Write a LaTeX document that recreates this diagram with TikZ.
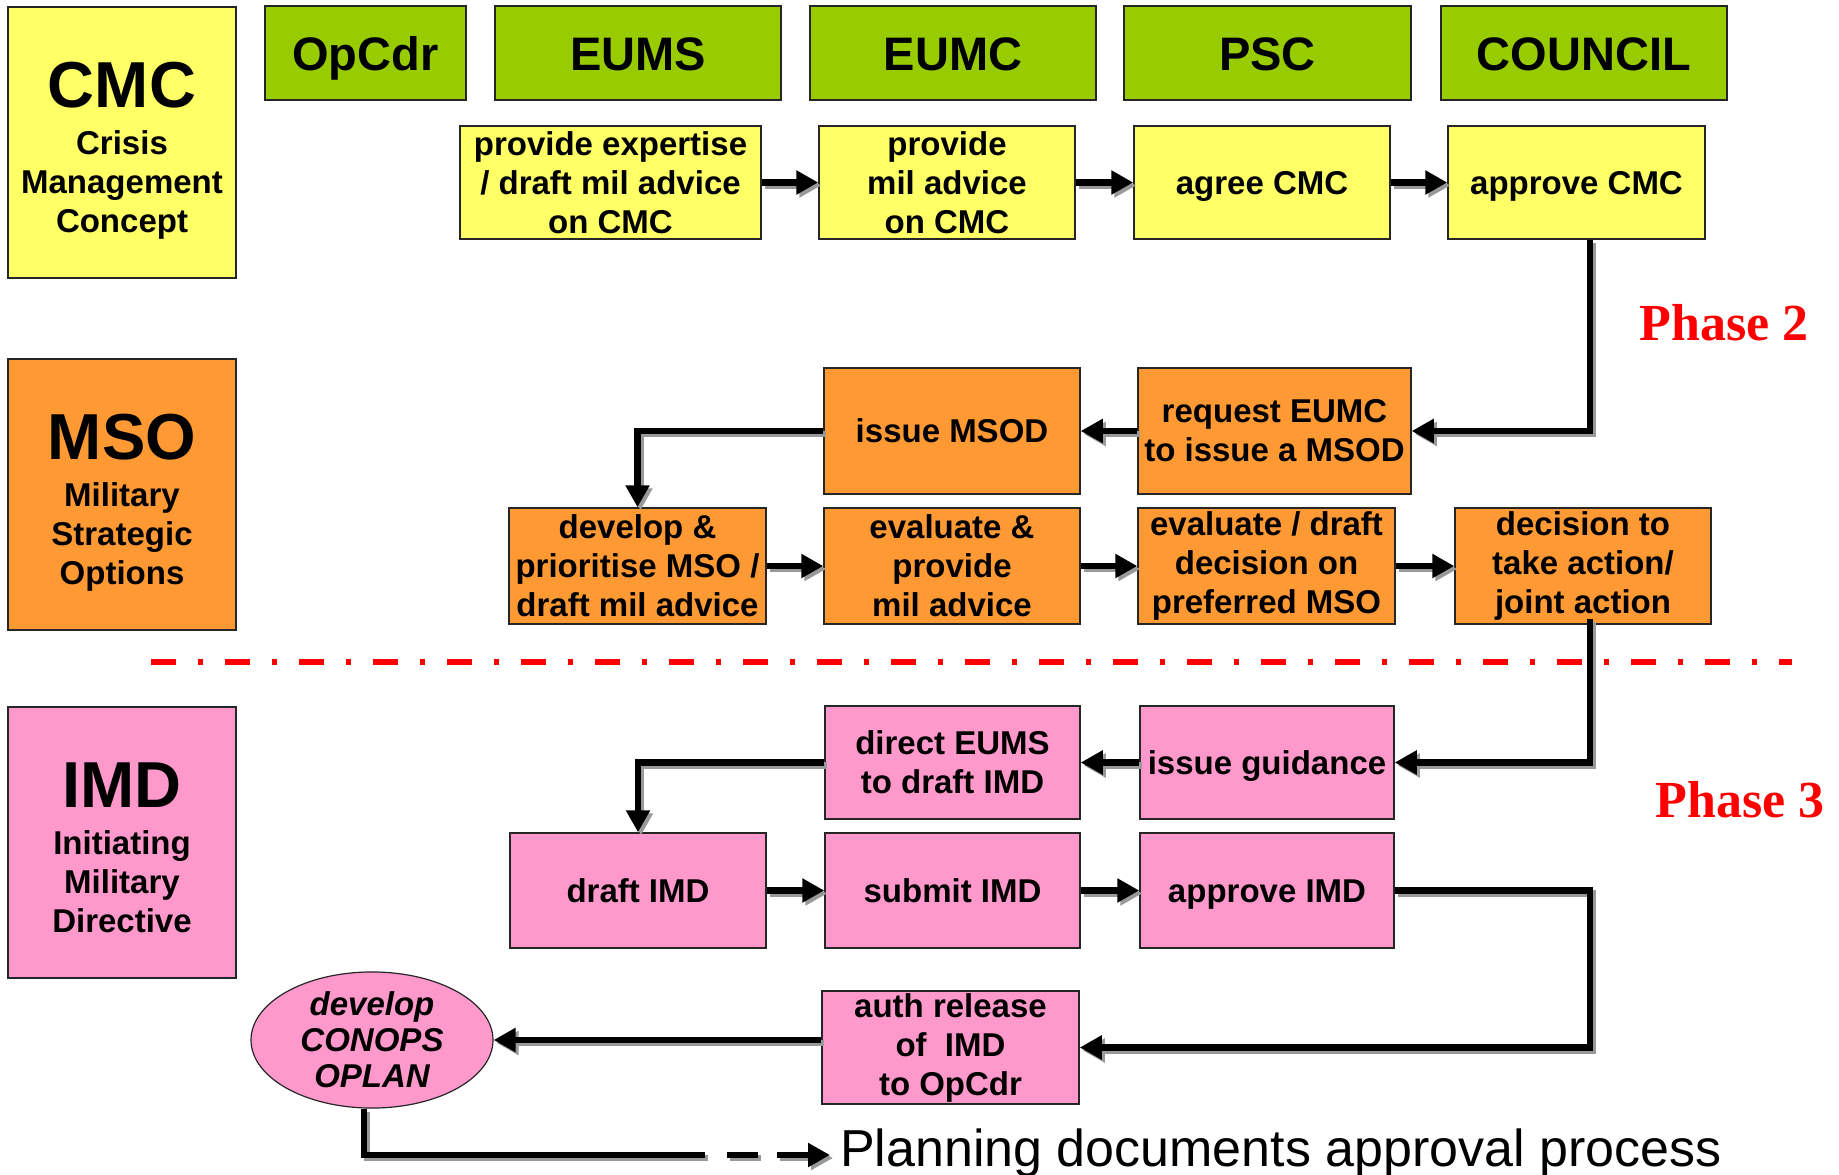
\documentclass[tikz,border=0pt]{standalone}
\usepackage{fontspec}
\setmainfont{Liberation Sans}
\newfontfamily\phasefont{Liberation Serif}
\usetikzlibrary{arrows.meta,shapes.geometric}
\definecolor{ybox}{HTML}{FFFF66}
\definecolor{gbox}{HTML}{99CC00}
\definecolor{obox}{HTML}{FF9933}
\definecolor{pbox}{HTML}{FF99CC}
\begin{document}
\begin{tikzpicture}[x=1pt,y=-1pt,
  box/.style={draw=black!85, line width=1.5pt, inner sep=0pt, align=center,
    font=\bfseries\fontsize{33}{39}\selectfont},
  hdr/.style={box, fill=gbox, minimum height=94pt, text height=34pt, text depth=0pt,
    font=\bfseries\fontsize{47}{50}\selectfont},
  cat/.style={box, minimum width=228pt, minimum height=271pt, text height=186pt, text depth=7pt},
  one/.style={text height=24pt, text depth=1pt},
  yb/.style={box, fill=ybox, minimum height=113pt},
  ob/.style={box, fill=obox},
  pb/.style={box, fill=pbox},
  conn/.style={line width=6.5pt, black,
    preaction={draw=black!40, line width=6.5pt, transform canvas={shift={(3pt,-3pt)}}}},
  arr/.style={conn, -{Triangle[length=22pt,width=23pt]}},
  sep/.style={draw=red, line width=5.5pt, dash pattern=on 25pt off 22pt on 5pt off 22pt},
  phase/.style={text=red, inner sep=0pt, font=\phasefont\bfseries\fontsize{52}{52}\selectfont}
]
\useasboundingbox (0,0) rectangle (1839,1175);

% headers
\node[hdr, minimum width=201pt] (opcdr) at (365.5,53) {OpCdr};
\node[hdr, minimum width=286pt] (eums) at (638,53) {EUMS};
\node[hdr, minimum width=286pt] (eumc) at (953,53) {EUMC};
\node[hdr, minimum width=287pt] (psc) at (1267.5,53) {PSC};
\node[hdr, minimum width=286pt] (council) at (1584,53) {COUNCIL};

% category boxes
\node[cat, fill=ybox] (cmc) at (122,142.5) {{\fontsize{65}{65}\selectfont CMC}\\[8pt]Crisis\\Management\\Concept};
\node[cat, fill=obox] (mso) at (122,494.5) {{\fontsize{65}{65}\selectfont MSO}\\[8pt]Military\\Strategic\\Options};
\node[cat, fill=pbox] (imd) at (122,842.5) {{\fontsize{65}{65}\selectfont IMD}\\[8pt]Initiating\\Military\\Directive};

% yellow row
\node[yb, minimum width=301pt] (y1) at (610.5,182.5) {provide expertise\\/ draft mil advice\\on CMC};
\node[yb, minimum width=256pt] (y2) at (947,182.5) {provide\\mil advice\\on CMC};
\node[yb, one, minimum width=256pt] (y3) at (1262,182.5) {agree CMC};
\node[yb, one, minimum width=257pt] (y4) at (1576.5,182.5) {approve CMC};

% orange rows
\node[ob, one, minimum width=256pt, minimum height=126pt] (msod) at (952,431) {issue MSOD};
\node[ob, minimum width=273pt, minimum height=126pt] (req) at (1274.5,431) {request EUMC\\to issue a MSOD};
\node[ob, minimum width=257pt, minimum height=116pt] (dev) at (637.5,566) {develop \&\\prioritise MSO /\\draft mil advice};
\node[ob, minimum width=256pt, minimum height=116pt] (evp) at (952,566) {evaluate \&\\provide\\mil advice};
\node[ob, minimum width=257pt, minimum height=116pt] (evd) at (1266.5,566) {evaluate / draft\\decision on\\preferred MSO};
\node[ob, minimum width=256pt, minimum height=116pt] (dec) at (1583,566) {decision to\\take action/\\joint action};

% pink rows
\node[pb, minimum width=255pt, minimum height=113pt] (dir) at (952.5,762.5) {direct EUMS\\to draft IMD};
\node[pb, one, minimum width=254pt, minimum height=113pt] (guid) at (1267,762.5) {issue guidance};
\node[pb, one, minimum width=256pt, minimum height=115pt] (dimd) at (638,890.5) {draft IMD};
\node[pb, one, minimum width=255pt, minimum height=115pt] (sub) at (952.5,890.5) {submit IMD};
\node[pb, one, minimum width=254pt, minimum height=115pt] (appr) at (1267,890.5) {approve IMD};
\node[pb, minimum width=257pt, minimum height=113pt] (auth) at (950.5,1047.5) {auth release\\of~~IMD\\to OpCdr};
\node[draw=black!85, line width=1.2pt, ellipse, fill=pbox, minimum width=242pt, minimum height=128pt,
  inner sep=0pt, align=center, font=\bfseries\itshape\fontsize{33}{36}\selectfont] (ell) at (372,1040) {develop\\CONOPS\\OPLAN};

% phase labels and separator
\node[phase] (ph2) at (1724,323) {Phase 2};
\node[phase] (ph3) at (1740,800) {Phase 3};
\coordinate (sepL) at (151,662);
\coordinate (sepR) at (1792,662);
\draw[sep] (sepL) -- (sepR);

% legend text
\node[anchor=base west, inner sep=0pt, font=\fontsize{52}{52}\selectfont] (plan) at (840,1166) {Planning documents approval process};

% connectors
\coordinate (rail) at (1590,0);
\draw[arr] (y1.east) -- (y2.west);
\draw[arr] (y2.east) -- (y3.west);
\draw[arr] (y3.east) -- (y4.west);
\draw[arr] (y4.south -| rail) |- (req.east);
\draw[arr] (req.west) -- (msod.east);
\draw[arr] (msod.west) -| (dev.north);
\draw[arr] (dev.east) -- (evp.west);
\draw[arr] (evp.east) -- (evd.west);
\draw[arr] (evd.east) -- (dec.west);
\coordinate (decs) at ([yshift=6pt]dec.south);
\draw[arr] (decs -| rail) |- (guid.east);
\draw[arr] (guid.west) -- (dir.east);
\draw[arr] (dir.west) -| (dimd.north);
\draw[arr] (dimd.east) -- (sub.west);
\draw[arr] (sub.east) -- (appr.west);
\draw[arr] (appr.east) -- (appr.east -| rail) |- (auth.east);
\draw[arr] (auth.west |- ell.east) -- (ell.east);
\coordinate (ells) at ([xshift=-8pt]ell.south);
\coordinate (c1) at (705,1155);
\coordinate (d1) at (727,1155);
\coordinate (d2) at (758,1155);
\coordinate (d3) at (777,1155);
\coordinate (pw) at ([xshift=-10pt]plan.west);
\draw[conn] (ells) |- (c1);
\draw[conn] (d1) -- (d2);
\draw[arr] (d3) -- (pw |- d3);
\end{tikzpicture}
\end{document}
